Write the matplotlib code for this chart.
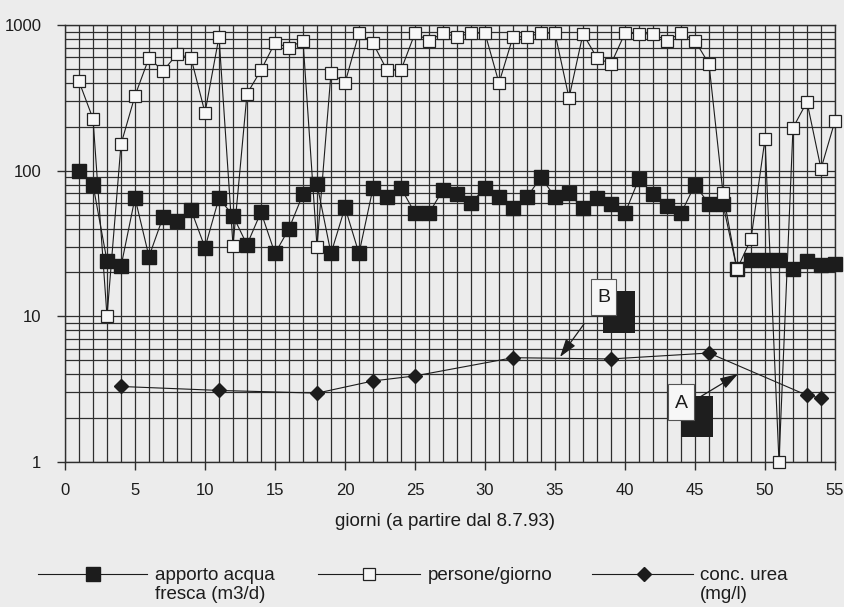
"""
Grafico log: apporto acqua fresca, persone/giorno e conc. urea vs giorni.
"""
import matplotlib
matplotlib.use("Agg")
import matplotlib.pyplot as plt
from matplotlib.lines import Line2D
from matplotlib.patches import Rectangle, FancyArrowPatch
from matplotlib.ticker import FixedLocator, MultipleLocator, NullFormatter
from matplotlib import font_manager

# =============================================================================
# Dati
# =============================================================================

GIORNI = list(range(1, 56))

APPORTO = [100, 80, 24, 22, 65, 25.7, 48, 45, 54, 29.6,
           65, 49, 31, 52, 27, 40, 69, 81, 27, 56,
           27, 76, 66, 76, 51, 51, 74, 69, 60, 76,
           66, 55, 66, 90, 66, 70, 55, 65, 59, 51,
           88, 69, 57, 51, 80, 59, 59, 21, 24.5, 24.5,
           24.5, 21, 24, 22.5, 23]

PERSONE = [410, 227, 10, 152, 327, 595, 483, 630, 595, 250,
           830, 30.6, 337, 490, 755, 700, 780, 30, 470, 400,
           880, 750, 490, 490, 880, 780, 880, 830, 880, 880,
           400, 830, 830, 880, 880, 316, 870, 595, 540, 880,
           870, 870, 780, 880, 780, 540, 70, 21, 34, 165,
           1, 197, 297, 103, 220]

GIORNI_UREA = [4, 11, 18, 22, 25, 32, 39, 46, 53, 54]
UREA = [3.3, 3.1, 2.97, 3.6, 3.9, 5.2, 5.1, 5.6, 2.87, 2.75]

Y_TICKS = [1, 10, 100, 1000]
Y_TICK_LABELS = ["1", "10", "100", "1000"]
X_TICKS = list(range(0, 56, 5))

XLABEL = "giorni (a partire dal 8.7.93)"
LEGEND_LABELS = ["apporto acqua\nfresca (m3/d)", "persone/giorno",
                 "conc. urea\n(mg/l)"]

# =============================================================================
# Stile
# =============================================================================

BG = "#ececec"
GRID = "#2e2e2e"
INK = "#1c1c1c"
W, H = 845, 607

installed = {f.name for f in font_manager.fontManager.ttflist}
NARROW = "Liberation Sans Narrow" if "Liberation Sans Narrow" in installed else "Liberation Sans"
TEXT_FONT = "Liberation Sans"


def px(x, y):
    """Pixel (dall'alto a sinistra) -> coordinate figura."""
    return x / W, 1 - y / H


fig = plt.figure(figsize=(W / 100, H / 100), dpi=100, facecolor=BG)
ax = fig.add_axes([65 / W, 1 - 462 / H, 770 / W, 437 / H])
ax.set_facecolor(BG)
ax.set_yscale("log")
ax.set_xlim(0, 55)
ax.set_ylim(1, 1000)

# griglia: verticale ogni giorno, orizzontale su tutti i sottomultipli
ax.xaxis.set_major_locator(FixedLocator(X_TICKS))
ax.xaxis.set_minor_locator(MultipleLocator(1))
ax.yaxis.set_major_locator(FixedLocator(Y_TICKS))
ax.yaxis.set_minor_locator(FixedLocator(
    [m * d for d in (1, 10, 100) for m in range(2, 10)]))
ax.yaxis.set_minor_formatter(NullFormatter())
ax.set_yticklabels(Y_TICK_LABELS)
ax.set_axisbelow(True)
ax.grid(True, which="both", color=GRID, linewidth=0.9)

ax.tick_params(which="major", direction="out", length=6, width=1.0,
               color=GRID, labelsize=12, labelcolor=INK)
ax.tick_params(axis="y", which="major", pad=11)
ax.tick_params(axis="x", which="major", pad=9)
ax.tick_params(which="minor", length=0)
for lab in ax.get_xticklabels() + ax.get_yticklabels():
    lab.set_fontfamily(NARROW)
for sp in ax.spines.values():
    sp.set_color(GRID)
    sp.set_linewidth(1.0)

# =============================================================================
# Serie
# =============================================================================

ax.plot(GIORNI, APPORTO, color=INK, linewidth=0.8, marker="s",
        markersize=9.5, markerfacecolor=INK, markeredgecolor=INK,
        zorder=3, clip_on=False)
ax.plot(GIORNI, PERSONE, color=INK, linewidth=0.8, marker="s",
        markersize=8.5, markerfacecolor="#f7f7f7", markeredgecolor="#222222",
        markeredgewidth=0.9, zorder=4, clip_on=False)
ax.plot(GIORNI_UREA, UREA, color=INK, linewidth=0.8, marker="D",
        markersize=7.5, markerfacecolor=INK, markeredgecolor=INK,
        zorder=3, clip_on=False)

fig.text(*px(445, 522), XLABEL, ha="center", va="center",
         fontsize=13.5, family=TEXT_FONT, color=INK)

# =============================================================================
# Etichette A e B con ombra e freccia
# =============================================================================

ov = fig.add_axes([0, 0, 1, 1], zorder=5)
ov.set_xlim(0, W)
ov.set_ylim(H, 0)
ov.axis("off")
ov.patch.set_alpha(0)


def label_box(ax_, letter, box, shadow, arrow_from, arrow_to):
    x0, y0, x1, y1 = shadow
    ax_.add_patch(Rectangle((x0, y0), x1 - x0, y1 - y0,
                            facecolor="#1e1e1e", edgecolor="none"))
    x0, y0, x1, y1 = box
    ax_.add_patch(Rectangle((x0, y0), x1 - x0, y1 - y0,
                            facecolor="#f7f7f7", edgecolor="#555555", lw=0.8))
    ax_.text((x0 + x1) / 2, (y0 + y1) / 2 + 1, letter, ha="center",
             va="center", fontsize=14, family=TEXT_FONT, color=INK)
    ax_.add_patch(FancyArrowPatch(arrow_from, arrow_to,
                                  arrowstyle="-|>,head_length=1.1,head_width=0.35",
                                  mutation_scale=10, color=INK, lw=0.9,
                                  shrinkA=0, shrinkB=0))


label_box(ov, "B", (591, 279, 616, 315), (603, 291, 635, 333),
          (584, 324), (560, 357))
label_box(ov, "A", (668, 384, 694, 420), (681, 396, 713, 437),
          (700, 397), (738, 374))

# =============================================================================
# Legenda (disegnata a mano sotto il grafico)
# =============================================================================

legend_items = [
    (38, 147, 93, 155, dict(marker="s", markersize=9.5, markerfacecolor=INK,
                            markeredgecolor=INK)),
    (318, 420, 369, 428, dict(marker="s", markersize=8,
                              markerfacecolor="#f7f7f7",
                              markeredgecolor="#222222", markeredgewidth=0.9)),
    (592, 693, 644, 700, dict(marker="D", markersize=7.5, markerfacecolor=INK,
                              markeredgecolor=INK)),
]
LEG_Y = 574
for (xa, xb, xm, xt, mk), label in zip(legend_items, LEGEND_LABELS):
    ov.add_line(Line2D([xa, xb], [LEG_Y, LEG_Y], color=INK, linewidth=0.8))
    ov.add_line(Line2D([xm], [LEG_Y], linestyle="none", **mk))
    ov.text(xt, LEG_Y - 7, label, ha="left", va="top", fontsize=13.5,
            family=TEXT_FONT, color=INK, linespacing=1.15)

fig.savefig("out.png", dpi=100, facecolor=BG)
print("font tick:", NARROW)
